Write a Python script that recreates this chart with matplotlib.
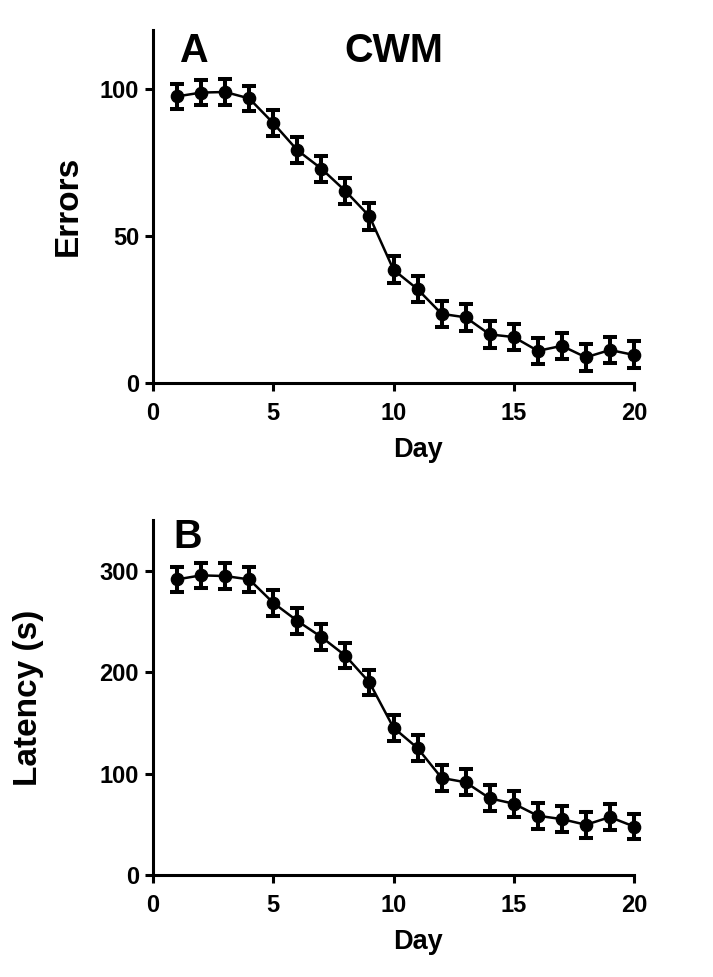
import matplotlib
matplotlib.use("Agg")
import matplotlib.pyplot as plt

plt.rcParams['font.family'] = ['Liberation Sans', 'DejaVu Sans']
plt.rcParams['font.weight'] = 'bold'

days = list(range(1, 21))
errors_mean = [97.4, 98.7, 98.9, 96.7, 88.3, 79.1, 72.8, 65.2, 56.6, 38.4,
               31.8, 23.4, 22.2, 16.4, 15.5, 10.8, 12.5, 8.6, 11.1, 9.4]
errors_sem = [4.3, 4.3, 4.3, 4.3, 4.4, 4.4, 4.4, 4.5, 4.5, 4.6,
              4.5, 4.5, 4.5, 4.5, 4.5, 4.5, 4.5, 4.6, 4.5, 4.6]
latency_mean = [291.4, 295.4, 294.7, 291.4, 268.3, 250.5, 234.6, 216.2, 189.8, 145.2,
                125.1, 95.7, 91.4, 75.6, 70.3, 58.4, 55.1, 49.5, 57.1, 47.8]
latency_sem = [12.5, 12.5, 12.5, 12.5, 12.5, 12.5, 12.5, 12.5, 12.5, 12.8,
               12.8, 12.8, 12.8, 12.8, 12.8, 12.8, 12.8, 12.8, 12.8, 12.8]

x_ticks = [0, 5, 10, 15, 20]
errors_ticks = [0, 50, 100]
latency_ticks = [0, 100, 200, 300]

W, H = 713, 977
fig = plt.figure(figsize=(W / 100, H / 100), dpi=100)
axA = fig.add_axes([0.2146, 0.6084, 0.6746, 0.3609])
axB = fig.add_axes([0.2146, 0.1044, 0.6746, 0.3634])


def style(ax, yticks, ylim):
    for s in ['top', 'right']:
        ax.spines[s].set_visible(False)
    for s in ['left', 'bottom']:
        ax.spines[s].set_linewidth(2.2)
    ax.set_xlim(0, 20)
    ax.set_ylim(*ylim)
    ax.set_xticks(x_ticks)
    ax.set_yticks(yticks)
    ax.tick_params(width=2.2, length=6, labelsize=17)
    ax.tick_params(axis='x', pad=8)
    ax.tick_params(axis='y', pad=4)
    for lab in ax.get_xticklabels() + ax.get_yticklabels():
        lab.set_fontweight('bold')


style(axA, errors_ticks, (0, 120))
style(axB, latency_ticks, (0, 350))

for ax, m, e in [(axA, errors_mean, errors_sem), (axB, latency_mean, latency_sem)]:
    ax.errorbar(days, m, yerr=e, color='black', lw=1.8, marker='o', ms=8.8,
                elinewidth=2.9, capsize=4.7, capthick=2.9, clip_on=False, zorder=3)

# axis labels
fig.text(418 / W, 1 - 450 / H, 'Day', ha='center', va='center', fontsize=19.5, fontweight='bold')
fig.text(418 / W, 1 - 942 / H, 'Day', ha='center', va='center', fontsize=19.5, fontweight='bold')
fig.text(68 / W, 1 - 206 / H, 'Errors', ha='center', va='center', rotation=90,
         fontsize=24, fontweight='bold')
fig.text(29 / W, 1 - 698 / H, 'Latency (s)', ha='center', va='center', rotation=90,
         fontsize=24, fontweight='bold')

axA.text(0.083, 0.94, 'A', transform=axA.transAxes, ha='center', va='center',
         fontsize=28.5, fontweight='bold')
axA.text(0.5, 0.94, 'CWM', transform=axA.transAxes, ha='center', va='center',
         fontsize=28.5, fontweight='bold')
axB.text(0.073, 0.952, 'B', transform=axB.transAxes, ha='center', va='center',
         fontsize=28.5, fontweight='bold')

fig.savefig('out.png', dpi=100)
